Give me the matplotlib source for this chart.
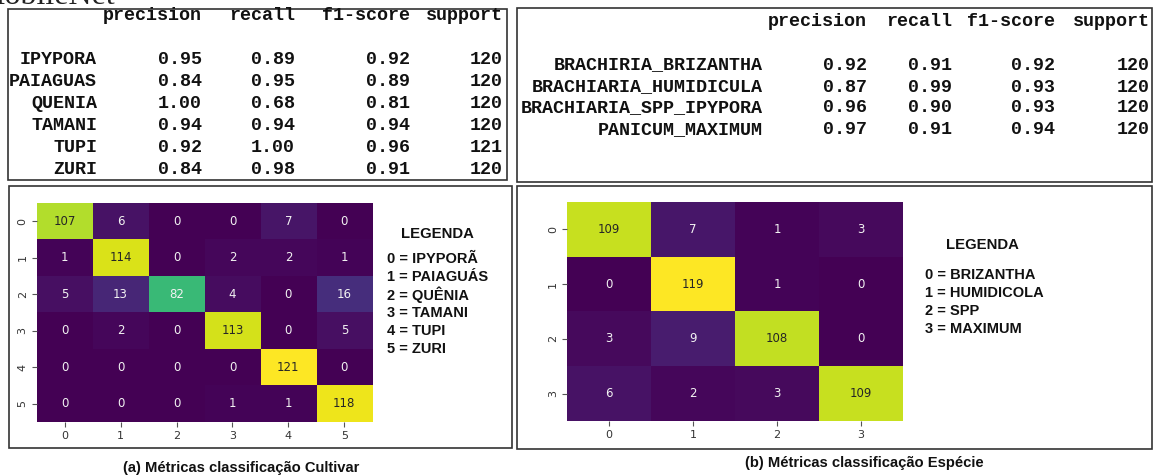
import numpy as np
import matplotlib
matplotlib.use("Agg")
import matplotlib.pyplot as plt
from matplotlib.patches import Rectangle
from matplotlib import colors as mcolors

# classification report - cultivar
cultivar_names = ['IPYPORA', 'PAIAGUAS', 'QUENIA', 'TAMANI', 'TUPI', 'ZURI']
cultivar_precision = [0.95, 0.84, 1.00, 0.94, 0.92, 0.84]
cultivar_recall = [0.89, 0.95, 0.68, 0.94, 1.00, 0.98]
cultivar_f1 = [0.92, 0.89, 0.81, 0.94, 0.96, 0.91]
cultivar_support = [120, 120, 120, 120, 121, 120]

# classification report - especie
especie_names = ['BRACHIRIA_BRIZANTHA', 'BRACHIARIA_HUMIDICULA',
                 'BRACHIARIA_SPP_IPYPORA', 'PANICUM_MAXIMUM']
especie_precision = [0.92, 0.87, 0.96, 0.97]
especie_recall = [0.91, 0.99, 0.90, 0.91]
especie_f1 = [0.92, 0.93, 0.93, 0.94]
especie_support = [120, 120, 120, 120]

# confusion matrices
cm_cultivar = [[107, 6, 0, 0, 7, 0],
               [1, 114, 0, 2, 2, 1],
               [5, 13, 82, 4, 0, 16],
               [0, 2, 0, 113, 0, 5],
               [0, 0, 0, 0, 121, 0],
               [0, 0, 0, 1, 1, 118]]
cm_especie = [[109, 7, 1, 3],
              [0, 119, 1, 0],
              [3, 9, 108, 0],
              [6, 2, 3, 109]]

legend_cultivar = ['0 = IPYPORÃ', '1 = PAIAGUÁS', '2 = QUÊNIA',
                   '3 = TAMANI', '4 = TUPI', '5 = ZURI']
legend_especie = ['0 = BRIZANTHA', '1 = HUMIDICOLA', '2 = SPP', '3 = MAXIMUM']
report_cols = ['precision', 'recall', 'f1-score', 'support']

W, H = 1155, 475
fig = plt.figure(figsize=(W / 100, H / 100), dpi=100)
fig.patch.set_facecolor('white')

# background axes in pixel coordinates
bg = fig.add_axes([0, 0, 1, 1])
bg.set_xlim(0, W)
bg.set_ylim(H, 0)
bg.axis('off')

mono = dict(family='Liberation Mono', weight='bold', fontsize=13.2, color='#111111')
sans = dict(family='Liberation Sans', weight='bold', color='#111111')


def box(x0, y0, x1, y1):
    bg.add_patch(Rectangle((x0, y0), x1 - x0, y1 - y0, fill=False,
                           edgecolor='#333333', linewidth=1.2))


def report(names, cols, name_right, col_rights, header_y, row_ys):
    for c, xr in zip(report_cols, col_rights):
        bg.text(xr, header_y, c, ha='right', va='center', **mono)
    for i, n in enumerate(names):
        y = row_ys[i]
        bg.text(name_right, y, n, ha='right', va='center', **mono)
        vals = ['%.2f' % cols[0][i], '%.2f' % cols[1][i],
                '%.2f' % cols[2][i], '%d' % cols[3][i]]
        for v, xr in zip(vals, col_rights):
            bg.text(xr, y, v, ha='right', va='center', **mono)


# title fragment cut by the top edge
bg.text(115, 4, 'MobileNet', ha='right', va='baseline', family='Liberation Serif',
        fontsize=23, color='#222222', clip_on=True)

# boxes
box(8, 9, 507, 180)
box(517, 8, 1152, 182)
box(9, 186, 512, 448)
box(517, 186, 1152, 449)

report(cultivar_names,
       [cultivar_precision, cultivar_recall, cultivar_f1, cultivar_support],
       97, [202, 295, 410, 503], 15, [60, 82, 104, 126, 147, 169])
report(especie_names,
       [especie_precision, especie_recall, especie_f1, especie_support],
       763, [867, 952, 1055, 1150], 21, [65, 87, 108, 130])


def heatmap(cm, x0, y0, x1, y1):
    cm = np.array(cm)
    ax = fig.add_axes([x0 / W, 1 - y1 / H, (x1 - x0) / W, (y1 - y0) / H])
    cmap = plt.get_cmap('viridis')
    norm = mcolors.Normalize(vmin=cm.min(), vmax=cm.max())
    ax.imshow(cm, cmap=cmap, norm=norm, aspect='auto', interpolation='nearest')
    n = cm.shape[0]
    for i in range(n):
        for j in range(n):
            r, g, b, _ = cmap(norm(cm[i, j]))
            lin = [c / 12.92 if c <= 0.03928 else ((c + 0.055) / 1.055) ** 2.4
                   for c in (r, g, b)]
            lum = 0.2126 * lin[0] + 0.7152 * lin[1] + 0.0722 * lin[2]
            tc = '#262626' if lum > 0.408 else '#f2f2f2'
            ax.text(j, i, str(cm[i, j]), ha='center', va='center',
                    fontsize=8.5, color=tc)
    ax.set_xticks(range(n))
    ax.set_yticks(range(n))
    ax.set_xticklabels([str(k) for k in range(n)])
    ax.set_yticklabels([str(k) for k in range(n)], rotation=90, va='center')
    ax.tick_params(length=3.5, width=0.8, color='#555555', labelsize=8,
                   labelcolor='#333333', pad=3)
    for s in ax.spines.values():
        s.set_visible(False)
    return ax


heatmap(cm_cultivar, 36.7, 203.3, 372.3, 421.7)
heatmap(cm_especie, 567, 202, 903, 421)

# legends
bg.text(437, 234, 'LEGENDA', ha='center', va='center', fontsize=10.7, **sans)
for k, t in enumerate(legend_cultivar):
    bg.text(387, 259 + 18 * k, t, ha='left', va='center', fontsize=10.5, **sans)

bg.text(982, 245, 'LEGENDA', ha='center', va='center', fontsize=10.7, **sans)
for k, t in enumerate(legend_especie):
    bg.text(925, 275 + 18 * k, t, ha='left', va='center', fontsize=10.5, **sans)

# captions
bg.text(241, 468, '(a) Métricas classificação Cultivar', ha='center', va='center',
        fontsize=10.6, **sans)
bg.text(864, 463, '(b) Métricas classificação Espécie', ha='center', va='center',
        fontsize=10.6, **sans)

fig.savefig('out.png', dpi=100, facecolor='white')
